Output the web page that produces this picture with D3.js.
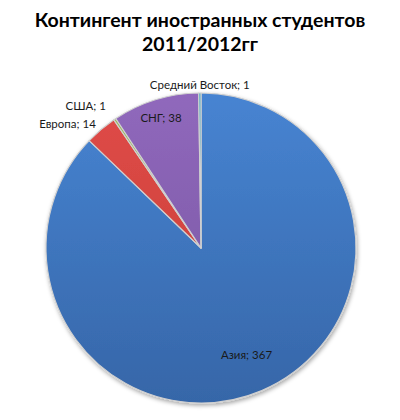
<!DOCTYPE html>
<html lang="ru">
<head>
<meta charset="utf-8">
<title>Контингент иностранных студентов</title>
<script src="https://cdn.jsdelivr.net/npm/d3@7"></script>
<style>
  body { margin: 0; background: #fff; }
  svg { display: block; }
</style>
</head>
<body>
<script>
// data
var categories = ["Азия", "Европа", "США", "СНГ", "Средний Восток"];
var values = [367, 14, 1, 38, 1];
var titleLines = ["Контингент иностранных студентов", "2011/2012гг"];

var w = 400, h = 420;
var cx = 201, cy = 248, R = 155;

// slice colours: [top, bottom] of a vertical gradient
var colors = {
  "Азия": ["#4784d2", "#3666a8"],
  "Европа": ["#e04c48", "#c43a36"],
  "США": ["#9bbb59", "#839f47"],
  "СНГ": ["#9068bc", "#7656a0"],
  "Средний Восток": ["#4bacc6", "#3a94ac"]
};

// where the label sits: radius from the centre, and how it is anchored
var labelPos = {
  "Азия": { r: 116, anchor: "middle" },
  "Европа": { r: 163, anchor: "end" },
  "США": { r: 171, anchor: "end" },
  "СНГ": { r: 136, anchor: "middle" },
  "Средний Восток": { r: 163, anchor: "middle" }
};

var data = categories.map(function(c, i) { return { name: c, value: values[i] }; });

var svg = d3.select("body").append("svg")
  .attr("width", w)
  .attr("height", h);

var defs = svg.append("defs");

categories.forEach(function(c, i) {
  var g = defs.append("linearGradient")
    .attr("id", "grad" + i)
    .attr("gradientUnits", "userSpaceOnUse")
    .attr("x1", 0).attr("y1", -R)
    .attr("x2", 0).attr("y2", R);
  g.append("stop").attr("offset", "0%").attr("stop-color", colors[c][0]);
  g.append("stop").attr("offset", "100%").attr("stop-color", colors[c][1]);
});

var shadow = defs.append("filter").attr("id", "shadow")
  .attr("x", "-10%").attr("y", "-10%").attr("width", "120%").attr("height", "120%");
shadow.append("feDropShadow")
  .attr("dx", 1).attr("dy", 2)
  .attr("stdDeviation", 2)
  .attr("flood-color", "#000")
  .attr("flood-opacity", 0.35);

// title
svg.append("g")
  .selectAll("text")
  .data(titleLines)
  .enter()
  .append("text")
  .attr("x", w / 2)
  .attr("y", function(d, i) { return 27 + i * 24; })
  .attr("text-anchor", "middle")
  .attr("font-family", "Lato, 'Open Sans', sans-serif")
  .attr("font-weight", "bold")
  .attr("font-size", "19.5px")
  .attr("fill", "#000")
  .text(function(d) { return d; });

var pie = d3.pie()
  .sort(null)
  .value(function(d) { return d.value; });

var arcs = pie(data);

var arc = d3.arc()
  .innerRadius(0)
  .outerRadius(R);

var chart = svg.append("g")
  .attr("transform", "translate(" + cx + "," + cy + ")");

chart.append("g")
  .attr("filter", "url(#shadow)")
  .selectAll("path")
  .data(arcs)
  .enter()
  .append("path")
  .attr("d", arc)
  .attr("fill", function(d, i) { return "url(#grad" + i + ")"; })
  .attr("stroke", "#d0d0d0")
  .attr("stroke-width", 1.2)
  .attr("stroke-linejoin", "round");

// labels
chart.append("g")
  .selectAll("text")
  .data(arcs)
  .enter()
  .append("text")
  .attr("transform", function(d) {
    var r = labelPos[d.data.name].r;
    var c = d3.arc().innerRadius(r).outerRadius(r).centroid(d);
    return "translate(" + c[0] + "," + c[1] + ")";
  })
  .attr("dy", "0.35em")
  .attr("text-anchor", function(d) { return labelPos[d.data.name].anchor; })
  .attr("font-family", "Lato, 'Open Sans', sans-serif")
  .attr("font-size", "11.5px")
  .attr("fill", "#1a1a1a")
  .text(function(d) { return d.data.name + "; " + d.data.value; });
</script>
</body>
</html>
